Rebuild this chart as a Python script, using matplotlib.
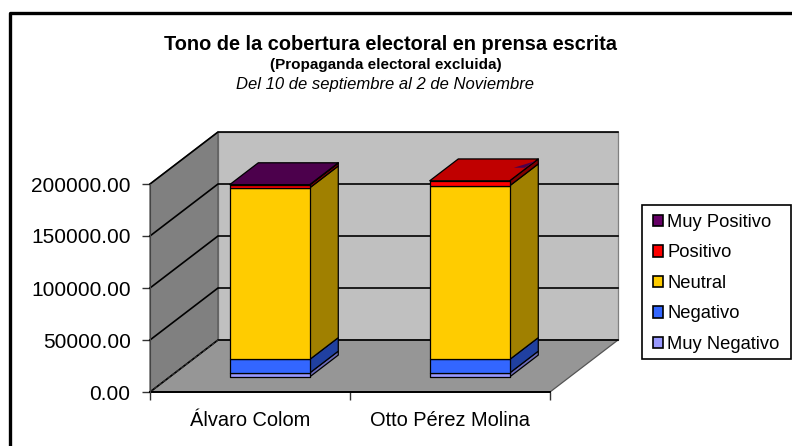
import matplotlib
matplotlib.use('Agg')
import matplotlib.pyplot as plt
from matplotlib.patches import Patch, Rectangle

plt.rcParams['font.family'] = ['Liberation Sans', 'DejaVu Sans']

candidates = ['Álvaro Colom', 'Otto Pérez Molina']
series = ['Muy Negativo', 'Negativo', 'Neutral', 'Positivo', 'Muy Positivo']
muy_negativo = [3800, 3800]
negativo = [13000, 13000]
neutral = [165000, 167000]
positivo = [2800, 4800]
muy_positivo = [300, 0]
values = [muy_negativo, negativo, neutral, positivo, muy_positivo]
y_ticks = [0, 50000, 100000, 150000, 200000]

front = ['#9999FF', '#3366FF', '#FFCC00', '#FF0000', '#660066']
side = ['#6A6AB8', '#2040A0', '#A08000', '#800000', '#330033']
top = ['#7A7ACC', '#2952CC', '#CCA300', '#C00000', '#4C004C']

W, H = 792, 446
# oblique depth: how far the back wall sits from the front plane, in data units
DX = 0.34
DV = 50000
BAR_W = 0.4
D0, D1 = 0.29, 0.71


def proj(x, v, d):
  return x + d * DX, v + d * DV


def face(ax, pts, color, edge='black', lw=0.9, z=3):
  xs, ys = zip(*[proj(*p) for p in pts])
  ax.fill(xs, ys, facecolor=color, edgecolor=edge, linewidth=lw, zorder=z,
          clip_on=False, joinstyle='round')


def box(ax, x0, x1, v0, v1, i, z):
  face(ax, [(x1, v0, D0), (x1, v0, D1), (x1, v1, D1), (x1, v1, D0)], side[i], z=z)
  face(ax, [(x0, v0, D0), (x1, v0, D0), (x1, v1, D0), (x0, v1, D0)], front[i], z=z)


fig = plt.figure(figsize=(W / 100, H / 100), dpi=100)
ax = fig.add_axes([150 / W, (H - 392) / H, 400 / W, 208 / H])
ax.set_xlim(0, 2)
ax.set_ylim(0, 200000)
ax.patch.set_visible(False)

# walls and floor
vmax = y_ticks[-1]
face(ax, [(0, 0, 1), (2, 0, 1), (2, vmax, 1), (0, vmax, 1)], '#C0C0C0', edge='#808080', z=1)
face(ax, [(0, 0, 0), (0, 0, 1), (0, vmax, 1), (0, vmax, 0)], '#808080', edge='#555555', z=1)
face(ax, [(0, 0, 0), (2, 0, 0), (2, 0, 1), (0, 0, 1)], '#969696', edge='#555555', z=1)

for v in y_ticks:
  xs, ys = zip(proj(0, v, 0), proj(0, v, 1), proj(2, v, 1))
  ax.plot(xs, ys, color='black', lw=1.2, zorder=2, clip_on=False)
xs, ys = zip(proj(0, 0, 0), proj(0, 0, 1))
ax.plot(xs, ys, color='#333333', lw=0.8, ls=(0, (3, 2)), zorder=2, clip_on=False)

# stacked bars, bottom to top
for c in range(len(candidates)):
  x0 = c + 0.5 - BAR_W / 2
  x1 = c + 0.5 + BAR_W / 2
  base = 0
  last = 0
  for i in range(len(series)):
    val = values[i][c]
    if val > 0:
      box(ax, x0, x1, base, base + val, i, 3 + i)
      last = i
    base += val
  face(ax, [(x0, base, D0), (x1, base, D0), (x1, base, D1), (x0, base, D1)], top[last], z=9)
  if muy_positivo[c] == 0:
    # the sliver of the empty top segment showing on the red lid
    face(ax, [(x1 - 0.065, base, D0 + 0.25), (x1, base, D0 + 0.38), (x1 - 0.01, base, D0 + 0.25)],
         top[4], edge='none', lw=0, z=10)

ax.set_xticks([0, 1, 2])
ax.set_xticklabels([])
ax.set_xticks([0.5, 1.5], minor=True)
ax.set_xticklabels(candidates, minor=True, fontsize=14.4)
ax.tick_params(axis='x', which='minor', length=0, pad=14)
ax.tick_params(axis='x', which='major', length=6, width=1, color='#333333')
ax.set_yticks(y_ticks)
ax.set_yticklabels(['%.2f' % v for v in y_ticks], fontsize=15)
ax.tick_params(axis='y', length=6, width=1, pad=8, color='#333333')
for s in ['top', 'right']:
  ax.spines[s].set_visible(False)
ax.spines['left'].set_color('#444444')
ax.spines['bottom'].set_linewidth(1.4)
ax.spines['bottom'].set_zorder(2)

# titles
fig.text(390 / W, 1 - 44 / H, 'Tono de la cobertura electoral en prensa escrita',
         ha='center', va='center', fontsize=14.4, fontweight='bold')
fig.text(386 / W, 1 - 65 / H, '(Propaganda electoral excluida)',
         ha='center', va='center', fontsize=11, fontweight='bold')
fig.text(385 / W, 1 - 84 / H, 'Del 10 de septiembre al 2 de Noviembre',
         ha='center', va='center', fontsize=12, style='italic')

# legend: the box is separate so the entries can sit where the reference has them
fig.add_artist(Rectangle((642 / W, 1 - 359 / H), 149 / W, 154 / H, facecolor='white',
                         edgecolor='black', linewidth=1.2, transform=fig.transFigure))
handles = [Patch(facecolor=front[i], edgecolor='black', linewidth=1.2, label=series[i])
           for i in reversed(range(len(series)))]
leg = fig.legend(handles=handles, loc='upper left',
                 bbox_to_anchor=(653 / W, 1 - 213.8 / H), bbox_transform=fig.transFigure,
                 fontsize=13.2, frameon=False, borderaxespad=0, borderpad=0, labelspacing=0.74,
                 handlelength=0.55, handleheight=0.6, handletextpad=0.22)
leg.set_zorder(5)

# outer frame, open on the right and bottom
fig.add_artist(plt.Line2D([9.5 / W, 9.5 / W, 1], [0, 1 - 13 / H, 1 - 13 / H],
                          color='black', lw=2.4, transform=fig.transFigure))

fig.savefig('out.png', dpi=100)
